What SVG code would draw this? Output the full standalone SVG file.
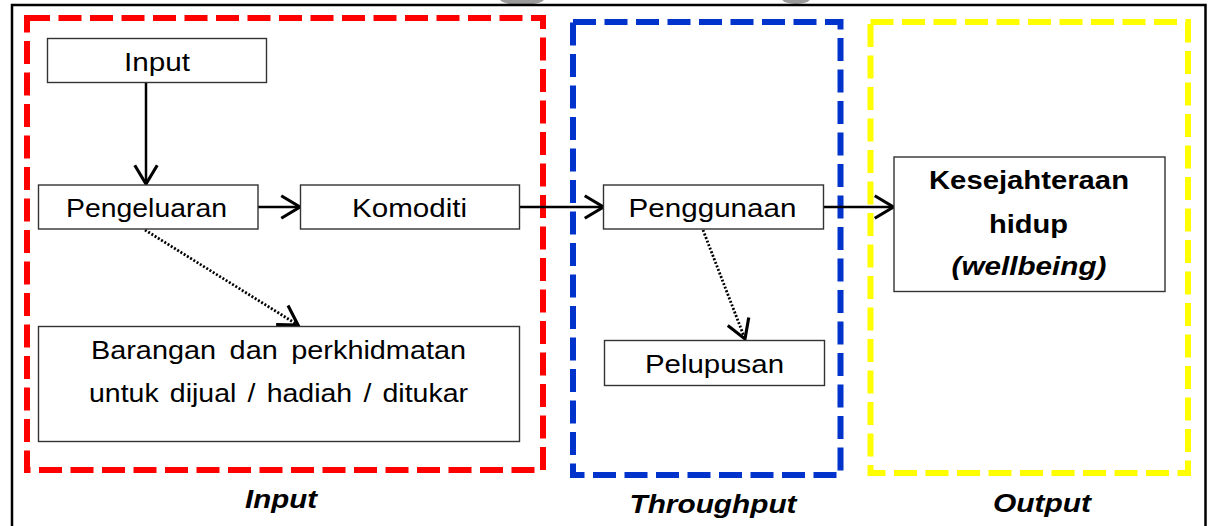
<svg xmlns="http://www.w3.org/2000/svg" width="1210" height="526" viewBox="0 0 1210 526">
<style>
.node{fill:#fff;stroke:#333;stroke-width:1.4}
.t{font-family:"Liberation Sans",Arial,sans-serif;font-size:26px;fill:#000;text-anchor:middle}
.b{font-weight:bold}
.bi{font-weight:bold;font-style:italic}
.zone{fill:none;stroke-width:6;stroke-dasharray:23 8.5}
.conn{stroke:#000;stroke-width:2.5;fill:none}
.dot{stroke:#000;stroke-width:2.8;fill:none;stroke-dasharray:2 1.8}
</style>
<defs>
<marker id="arr" markerUnits="userSpaceOnUse" markerWidth="30" markerHeight="30" viewBox="-16 -12 20 24" refX="0" refY="0" orient="auto">
<path d="M-15,-9 L0,0 L-15,9" fill="none" stroke="#000" stroke-width="2.5"/>
</marker>
</defs>
<rect width="1210" height="526" fill="#fff"/>
<ellipse cx="522" cy="-1" rx="22" ry="6" fill="#9a9a9a"/>
<ellipse cx="796" cy="-1" rx="14" ry="5" fill="#9a9a9a"/>
<path d="M12,530 V5 H1205.5 V530" fill="none" stroke="#000" stroke-width="2.5"/>
<g id="zones">
<rect class="zone" x="27" y="18" width="516" height="452" stroke="#ff0000"/>
<rect class="zone" x="573" y="22" width="267.5" height="453" stroke="#0033cc"/>
<rect class="zone" x="870.5" y="22" width="317.5" height="451" stroke="#ffff00"/>
</g>
<g id="connectors">
<line class="conn" x1="146" y1="83" x2="146" y2="184" marker-end="url(#arr)"/>
<line class="conn" x1="258" y1="207" x2="300" y2="207" marker-end="url(#arr)"/>
<line class="conn" x1="520" y1="207" x2="603.5" y2="207" marker-end="url(#arr)"/>
<line class="conn" x1="824" y1="207" x2="893.5" y2="207" marker-end="url(#arr)"/>
<line class="dot" x1="145" y1="230" x2="298" y2="325" marker-end="url(#arr)"/>
<line class="dot" x1="703" y1="230" x2="745" y2="339" marker-end="url(#arr)"/>
</g>
<g id="n-input">
<rect class="node" x="47.5" y="38.5" width="219" height="44"/>
<text class="t" x="157" y="70.5" textLength="66" lengthAdjust="spacingAndGlyphs">Input</text>
</g>
<g id="n-pengeluaran">
<rect class="node" x="38.5" y="185" width="219.5" height="44"/>
<text class="t" x="146.5" y="217" textLength="161" lengthAdjust="spacingAndGlyphs">Pengeluaran</text>
</g>
<g id="n-komoditi">
<rect class="node" x="300.5" y="185" width="219" height="44"/>
<text class="t" x="409.5" y="216.5" textLength="115" lengthAdjust="spacingAndGlyphs">Komoditi</text>
</g>
<g id="n-barangan">
<rect class="node" x="38.5" y="326.5" width="481" height="115"/>
<text class="t" x="278.5" y="359" textLength="375" lengthAdjust="spacingAndGlyphs" word-spacing="5">Barangan dan perkhidmatan</text>
<text class="t" x="278.5" y="402" textLength="379" lengthAdjust="spacingAndGlyphs" word-spacing="3">untuk dijual / hadiah / ditukar</text>
</g>
<g id="n-penggunaan">
<rect class="node" x="603.5" y="185" width="220" height="44"/>
<text class="t" x="712.5" y="216.5" textLength="168" lengthAdjust="spacingAndGlyphs">Penggunaan</text>
</g>
<g id="n-pelupusan">
<rect class="node" x="604.5" y="340.5" width="220" height="45"/>
<text class="t" x="714.5" y="372.5" textLength="139" lengthAdjust="spacingAndGlyphs">Pelupusan</text>
</g>
<g id="n-kesejahteraan">
<rect class="node" x="894" y="157" width="271" height="134.5"/>
<text class="t b" x="1029" y="189" textLength="200" lengthAdjust="spacingAndGlyphs">Kesejahteraan</text>
<text class="t b" x="1028.5" y="233" textLength="79" lengthAdjust="spacingAndGlyphs">hidup</text>
<text class="t bi" x="1029" y="275" textLength="155" lengthAdjust="spacingAndGlyphs">(wellbeing)</text>
</g>
<g id="labels">
<text class="t bi" x="281" y="508" textLength="72" lengthAdjust="spacingAndGlyphs">Input</text>
<text class="t bi" x="713" y="513" textLength="167" lengthAdjust="spacingAndGlyphs">Throughput</text>
<text class="t bi" x="1042" y="512" textLength="98" lengthAdjust="spacingAndGlyphs">Output</text>
</g>
</svg>
